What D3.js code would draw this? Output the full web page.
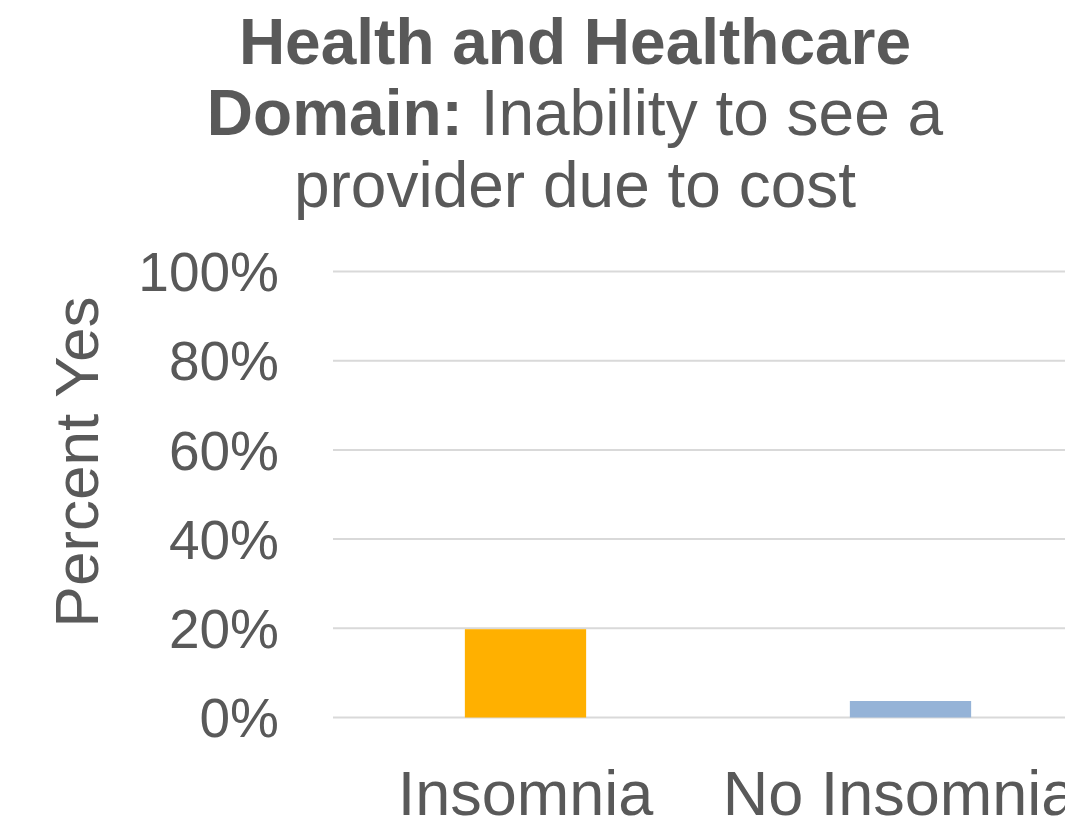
<!DOCTYPE html>
<html>
<head>
<meta charset="utf-8">
<script src="https://cdn.jsdelivr.net/npm/d3@7"></script>
<style>
  html, body { margin: 0; padding: 0; background: #fff; overflow: hidden; }
  svg { display: block; }
  text { font-family: "Liberation Sans", Arial, sans-serif; fill: #595959; }
</style>
</head>
<body>
<svg id="chart" width="1065" height="830"></svg>
<script>
// Share of respondents unable to see a provider due to cost
const categories = ["Insomnia", "No Insomnia"];
const values = [19.8, 3.7];
const barColors = ["#FFB000", "#95B3D7"];
const tickValues = [0, 20, 40, 60, 80, 100];

const svg = d3.select("#chart");
const margin = { left: 333, right: -38, top: 271.5, bottom: 112.5 };
const W = 1065, H = 830;

const x = d3.scaleBand()
  .domain(categories)
  .range([margin.left, W - margin.right])
  .paddingInner(0.685)
  .paddingOuter(0.3425);

const y = d3.scaleLinear()
  .domain([0, 100])
  .range([H - margin.bottom, margin.top]);

// Gridlines
svg.append("g")
  .selectAll("line")
  .data(tickValues)
  .join("line")
  .attr("x1", margin.left)
  .attr("x2", W - margin.right)
  .attr("y1", d => y(d))
  .attr("y2", d => y(d))
  .attr("stroke", "#D9D9D9")
  .attr("stroke-width", 2);

// Bars
svg.append("g")
  .selectAll("rect")
  .data(categories)
  .join("rect")
  .attr("x", d => x(d))
  .attr("width", x.bandwidth())
  .attr("y", (d, i) => y(values[i]))
  .attr("height", (d, i) => y(0) - y(values[i]))
  .attr("fill", (d, i) => barColors[i]);

// Y axis tick labels
const yAxis = d3.axisLeft(y)
  .tickValues(tickValues)
  .tickFormat(d => d + "%")
  .tickSize(0)
  .tickPadding(0);
const yg = svg.append("g")
  .attr("transform", "translate(279,0)")
  .call(yAxis);
yg.select(".domain").remove();
yg.selectAll("text")
  .attr("font-size", 55)
  .attr("fill", "#595959")
  .attr("font-family", "Liberation Sans, Arial, sans-serif")
  .attr("dy", "0.35em");

// X axis category labels; the long right-hand label runs into the edge
const xAxis = d3.axisBottom(x).tickSize(0).tickPadding(0);
const xg = svg.append("g")
  .attr("transform", "translate(0,815)")
  .call(xAxis);
xg.select(".domain").remove();
xg.selectAll("text")
  .attr("font-size", 63)
  .attr("fill", "#595959")
  .attr("font-family", "Liberation Sans, Arial, sans-serif")
  .attr("dy", 0)
  .attr("y", 0)
  .attr("dx", (d, i) => i === categories.length - 1 ? -11 : 0);

// Y axis title
svg.append("text")
  .attr("transform", "translate(98,462) rotate(-90)")
  .attr("text-anchor", "middle")
  .attr("font-size", 62)
  .text("Percent Yes");

// Chart title
const title = svg.append("text")
  .attr("text-anchor", "middle")
  .attr("font-size", 64);
title.append("tspan")
  .attr("x", 575).attr("y", 64)
  .attr("font-weight", "bold")
  .text("Health and Healthcare");
const l2 = title.append("tspan").attr("x", 575).attr("y", 135);
l2.append("tspan").attr("font-weight", "bold").text("Domain:");
l2.append("tspan").text(" Inability to see a");
title.append("tspan")
  .attr("x", 575).attr("y", 207)
  .text("provider due to cost");
</script>
</body>
</html>
